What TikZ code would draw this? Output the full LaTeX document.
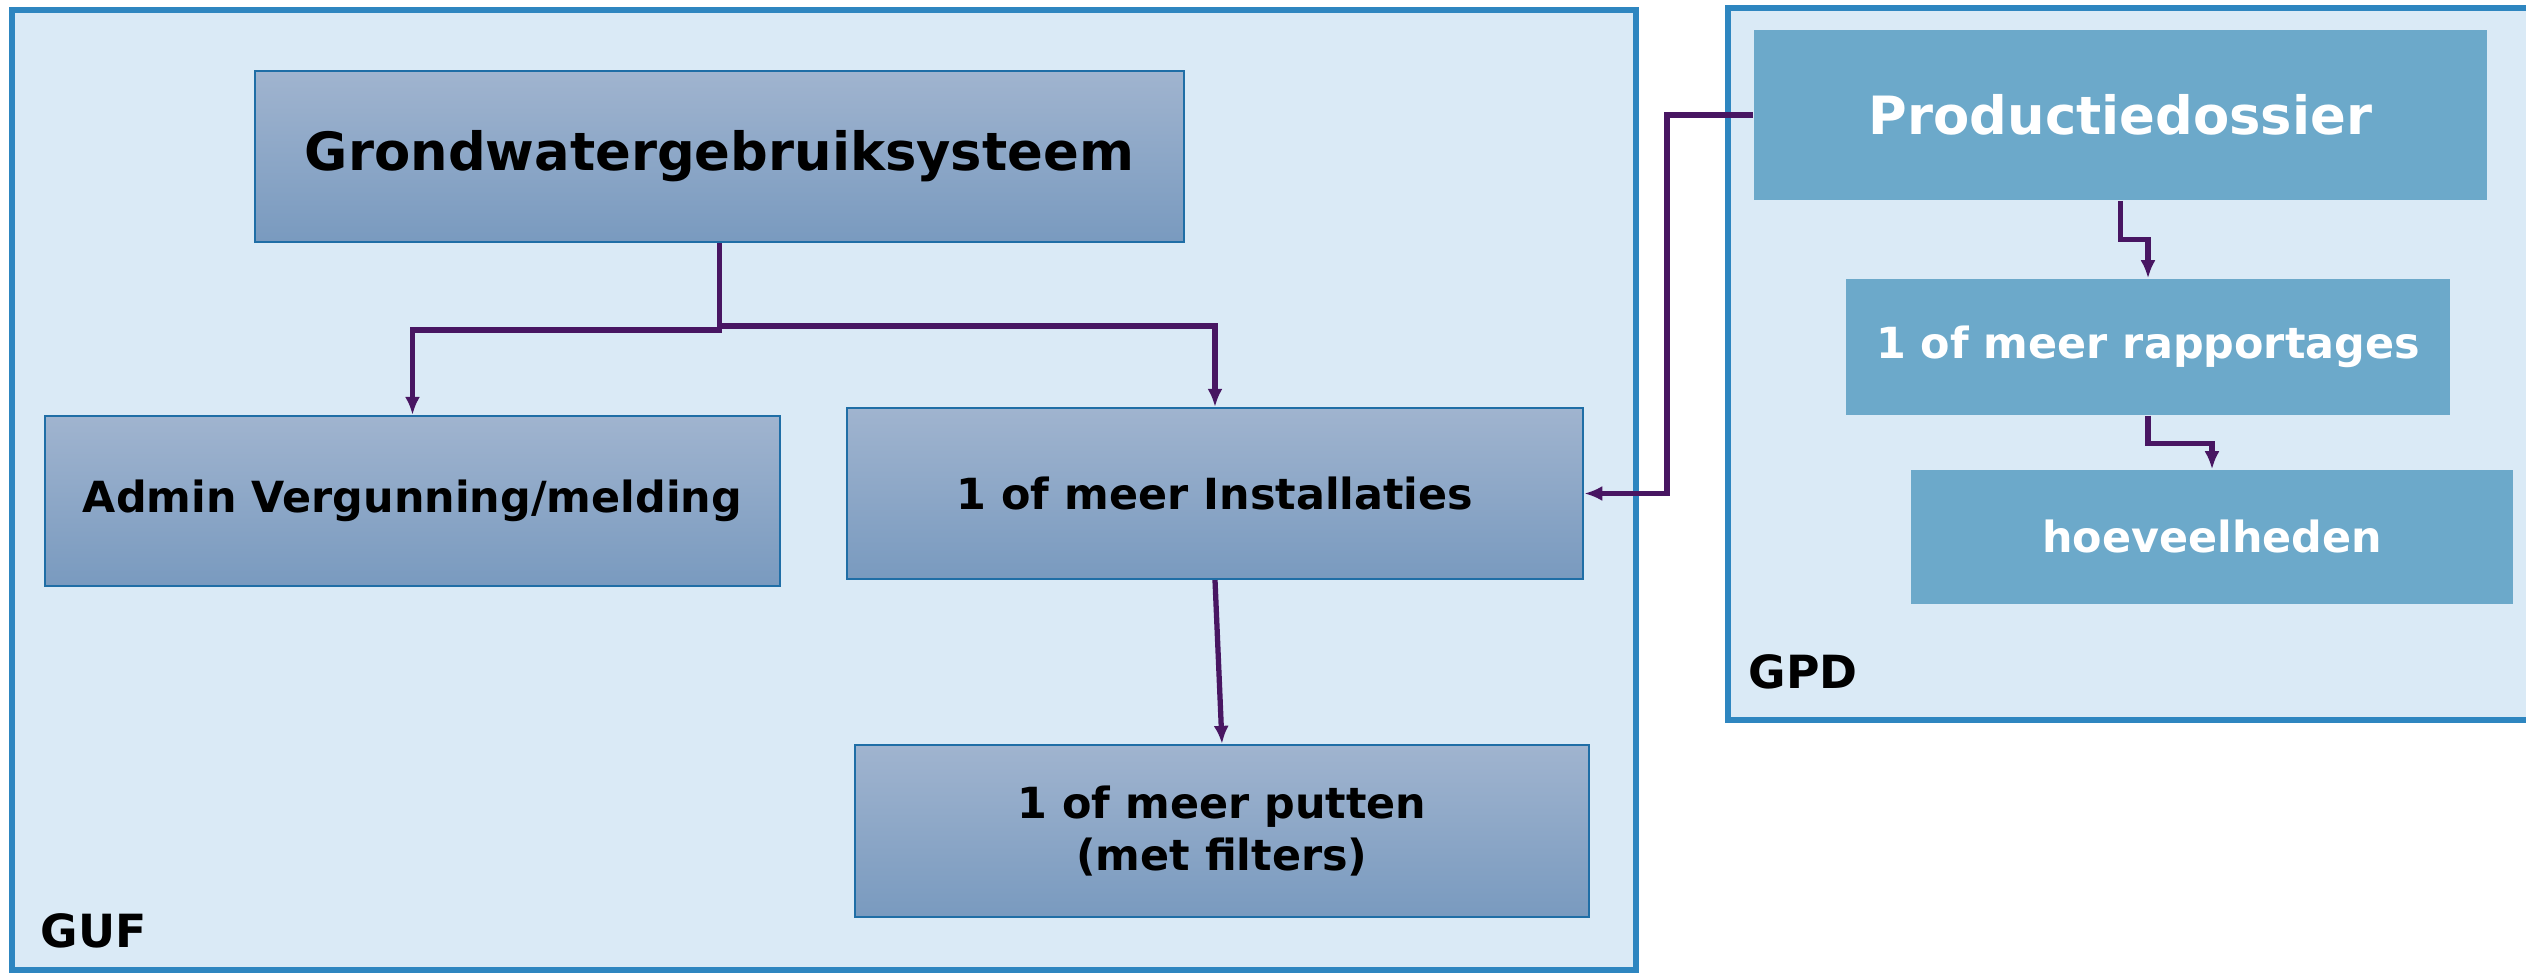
\documentclass[tikz,border=0pt]{standalone}
\usepackage{fontspec}
\setmainfont{DejaVu Sans}
\usetikzlibrary{arrows.meta}
\definecolor{areafill}{RGB}{218,234,246}
\definecolor{areaborder}{RGB}{46,134,192}
\definecolor{gtop}{RGB}{160,180,207}
\definecolor{gbot}{RGB}{121,154,191}
\definecolor{boxborder}{RGB}{31,110,166}
\definecolor{gpdfill}{RGB}{108,169,202}
\definecolor{conncol}{RGB}{72,22,98}
\tikzset{
  area/.style={draw=areaborder, fill=areafill, line width=1.7pt, inner sep=0pt},
  gufbox/.style={draw=boxborder, line width=0.6pt, top color=gtop, bottom color=gbot, inner sep=0pt, align=center, font=\bfseries\fontsize{12.2}{14.7}\selectfont},
  gpdbox/.style={fill=gpdfill, inner sep=0pt, align=center, text=white, font=\bfseries\fontsize{12.2}{14.7}\selectfont},
  arealabel/.style={inner sep=0pt, anchor=west, font=\bfseries\fontsize{13}{15}\selectfont},
  conn/.style={draw=conncol, line width=1.5pt, -{Latex[length=0.18cm, width=0.15cm]}},
}
\begin{document}
\begin{tikzpicture}[x=0.01cm, y=-0.01cm]
\useasboundingbox (0,0) rectangle (2526,973);
% containers
\node[area, minimum width=16.24cm, minimum height=9.60cm] (guf) at (824,490) {};
\node[area, minimum width=8.12cm, minimum height=7.12cm] (gpd) at (2134,364) {};
\node[arealabel] (guflabel) at (40,931) {GUF};
\node[arealabel] (gpdlabel) at (1748,672) {GPD};
% GUF boxes
\node[gufbox, minimum width=9.29cm, minimum height=1.71cm, font=\bfseries\fontsize{15}{18}\selectfont] (g) at (719.5,156.5) {Grondwatergebruiksysteem};
\node[gufbox, minimum width=7.35cm, minimum height=1.70cm] (admin) at (412.5,501) {Admin Vergunning/melding};
\node[gufbox, minimum width=7.36cm, minimum height=1.71cm] (inst) at (1215,493.5) {1 of meer Installaties};
\node[gufbox, minimum width=7.34cm, minimum height=1.72cm] (put) at (1222,831) {1 of meer putten\\(met filters)};
% GPD boxes
\node[gpdbox, minimum width=7.33cm, minimum height=1.70cm, font=\bfseries\fontsize{15}{18}\selectfont] (pd) at (2120.5,115) {Productiedossier};
\node[gpdbox, minimum width=6.04cm, minimum height=1.36cm] (rap) at (2148,347) {1 of meer rapportages};
\node[gpdbox, minimum width=6.02cm, minimum height=1.34cm] (hoev) at (2212,537) {hoeveelheden};
% connectors
\draw[conn] (g.south) -- ++(0,87) -| (admin.north);
\draw[conn] (g.south) -- ++(0,83) -| (inst.north);
\draw[conn] (inst.south) -- (put.north);
\draw[conn] (pd.west) -- ++(-86,0) |- (inst.east);
\draw[conn] (pd.south) -- ++(0,39) -| (rap.north);
\draw[conn] (rap.south) -- ++(0,28) -| (hoev.north);
\end{tikzpicture}
\end{document}
